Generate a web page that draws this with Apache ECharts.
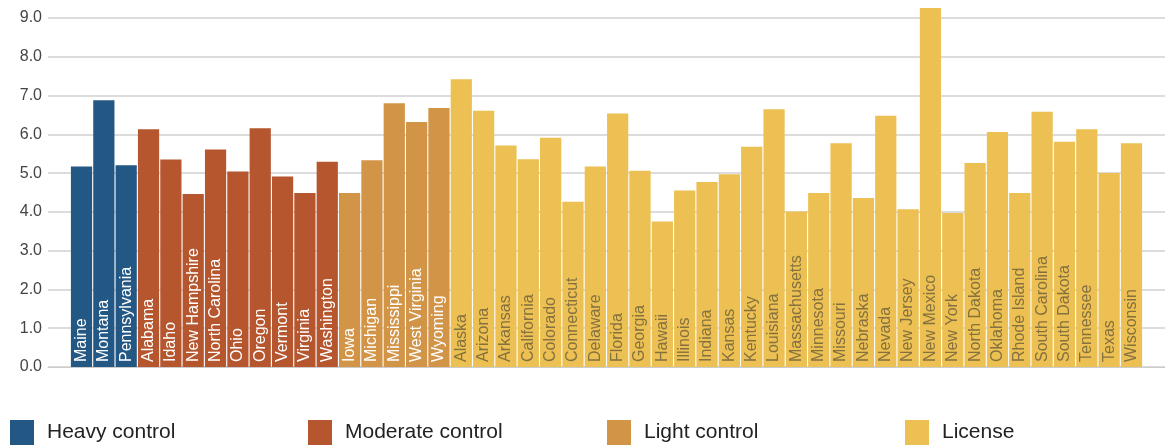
<!DOCTYPE html>
<html>
<head>
<meta charset="utf-8">
<script src="https://cdn.jsdelivr.net/npm/echarts@6/dist/echarts.min.js"></script>
<style>html,body{margin:0;padding:0;background:#fff}#c{width:1165px;height:445px}</style>
</head>
<body>
<div id="c"></div>
<script>
const heavyStates = ['Maine','Montana','Pennsylvania'];
const heavyValues = [5.17, 6.88, 5.20];
const moderateStates = ['Alabama','Idaho','New Hampshire','North Carolina','Ohio','Oregon','Vermont','Virginia','Washington'];
const moderateValues = [6.13, 5.35, 4.46, 5.61, 5.04, 6.16, 4.91, 4.49, 5.29];
const lightStates = ['Iowa','Michigan','Mississippi','West Virginia','Wyoming'];
const lightValues = [4.49, 5.33, 6.80, 6.32, 6.68];
const licenseStates = ['Alaska','Arizona','Arkansas','California','Colorado','Connecticut','Delaware','Florida','Georgia','Hawaii','Illinois','Indiana','Kansas','Kentucky','Louisiana','Massachusetts','Minnesota','Missouri','Nebraska','Nevada','New Jersey','New Mexico','New York','North Dakota','Oklahoma','Rhode Island','South Carolina','South Dakota','Tennessee','Texas','Wisconsin'];
const licenseValues = [7.42, 6.61, 5.71, 5.36, 5.91, 4.26, 5.17, 6.54, 5.06, 3.75, 4.55, 4.77, 4.97, 5.68, 6.65, 4.01, 4.49, 5.77, 4.36, 6.48, 4.07, 9.26, 3.97, 5.26, 6.06, 4.49, 6.58, 5.81, 6.13, 5.00, 5.77];
const yTicks = [0,1,2,3,4,5,6,7,8,9];

const groups = [
  {name:'Heavy control', states:heavyStates, values:heavyValues, color:'#235784', text:'#ffffff'},
  {name:'Moderate control', states:moderateStates, values:moderateValues, color:'#b5562e', text:'#ffffff'},
  {name:'Light control', states:lightStates, values:lightValues, color:'#d29447', text:'#ffffff'},
  {name:'License', states:licenseStates, values:licenseValues, color:'#ecc052', text:'#85713f'}
];
const categories = [].concat(heavyStates, moderateStates, lightStates, licenseStates);

const series = groups.map(g => {
  const data = categories.map(c => {
    const i = g.states.indexOf(c);
    return i >= 0 ? g.values[i] : null;
  });
  return {
    name: g.name, type: 'bar', stack: 'all', data: data,
    barCategoryGap: '5%', clip: false,
    itemStyle: {color: g.color},
    label: {
      show: true, position: 'insideBottom', rotate: 90, align: 'left', verticalAlign: 'middle',
      distance: 5, color: g.text, fontSize: 16, fontFamily: 'Liberation Sans, Arial, sans-serif',
      formatter: p => p.name
    },
    emphasis: {disabled: true}
  };
});

const legendLefts = [10, 308, 607, 905];
const legends = groups.map((g, i) => ({
  data: [g.name], left: legendLefts[i], top: 420, padding: 0, itemWidth: 24, itemHeight: 25, itemGap: 12,
  icon: 'rect', textStyle: {fontSize: 21, color: '#222', padding: [0, 0, 0, 8], fontFamily: 'Liberation Sans, Arial, sans-serif'},
  selectedMode: false
}));

const chart = echarts.init(document.getElementById('c'));
chart.setOption({
  animation: false,
  grid: {left: 48, right: 0, top: 18, bottom: 78},
  legend: legends,
  xAxis: {
    type: 'category', data: categories, min: -1, max: categories.length,
    axisLabel: {show: false}, axisTick: {show: false},
    axisLine: {lineStyle: {color: '#cccccc'}}
  },
  yAxis: {
    type: 'value', min: 0, max: 9, interval: 1,
    axisLabel: {formatter: v => yTicks.includes(v) ? v.toFixed(1) : '', fontSize: 16, color: '#444', margin: 6,
      fontFamily: 'Liberation Sans, Arial, sans-serif'},
    splitLine: {lineStyle: {color: '#d0d0d0', width: 1.5}},
    axisLine: {show: false}, axisTick: {show: false}
  },
  series: series
});
</script>
</body>
</html>
